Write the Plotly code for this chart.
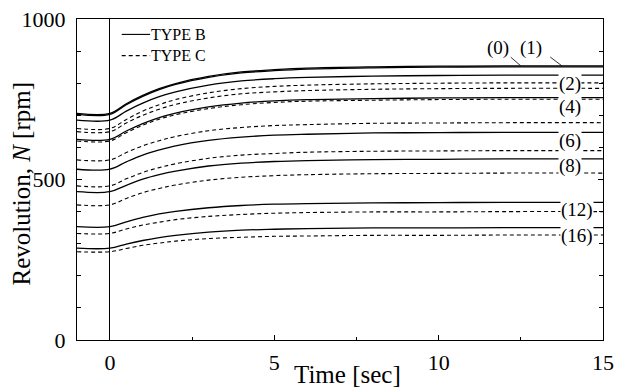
import plotly.graph_objects as go

# time samples (sec)
t = [-1, 0, 0.5, 1, 1.5, 2, 3, 4, 5, 6, 8, 10, 12, 15]

# TYPE B (solid) revolution [rpm]
B0 = [706, 706, 736, 762, 783, 799, 821, 835, 842, 847, 851, 853, 854, 854]
B1 = [703, 703, 733, 759, 780, 796, 818, 832, 839, 844, 848, 850, 851, 851]
B2 = [685, 685, 713, 738, 758, 773, 794, 807, 814, 818, 822, 824, 825, 825]
B4 = [625, 625, 651, 674, 693, 707, 726, 738, 745, 749, 752, 754, 755, 755]
B6 = [532, 532, 555, 576, 592, 605, 622, 632, 638, 641, 645, 646, 647, 647]
B8 = [462, 462, 482, 501, 515, 526, 542, 551, 556, 559, 562, 563, 564, 564]
B12 = [353, 353, 368, 382, 393, 401, 412, 419, 423, 425, 427, 428, 429, 429]
B16 = [286, 286, 299, 310, 319, 326, 336, 342, 345, 347, 349, 349, 350, 350]

# TYPE C (dashed) revolution [rpm]
C0 = [659, 659, 687, 713, 733, 749, 770, 783, 790, 794, 798, 800, 801, 801]
C1 = [649, 649, 676, 700, 719, 734, 754, 767, 773, 777, 781, 783, 784, 784]
C2 = [620, 620, 646, 669, 688, 702, 721, 733, 740, 744, 747, 749, 750, 750]
C4 = [561, 561, 584, 605, 621, 634, 652, 662, 668, 671, 675, 676, 677, 677]
C6 = [480, 480, 502, 522, 537, 549, 566, 576, 581, 585, 588, 589, 590, 590]
C8 = [421, 421, 441, 459, 472, 483, 498, 507, 512, 515, 518, 519, 520, 520]
C12 = [332, 332, 346, 358, 367, 375, 385, 391, 395, 397, 399, 399, 400, 400]
C16 = [275, 275, 285, 295, 302, 308, 316, 320, 323, 324, 326, 326, 327, 327]

series_B = [B0, B1, B2, B4, B6, B8, B12, B16]
series_C = [C0, C1, C2, C4, C6, C8, C12, C16]

# curve labels: (text, time, rpm)
labels = [("(2)", 14.0, 798), ("(4)", 14.0, 727), ("(6)", 14.0, 620),
          ("(8)", 14.0, 542), ("(12)", 14.2, 405), ("(16)", 14.2, 324)]
# labels with leader lines: (text, label time, label rpm, leader start t, rpm, leader end t, rpm)
leaders = [("(0)", 11.8, 910, 12.15, 885, 12.5, 854),
           ("(1)", 12.8, 910, 13.35, 885, 13.75, 854)]

FONT = "Liberation Serif, Times New Roman, Times, serif"
fig = go.Figure()
for ys in series_B:
    fig.add_trace(go.Scatter(x=t, y=ys, mode="lines", line=dict(color="black", width=1.3, shape="spline"),
                             name="TYPE B", showlegend=False))
for ys in series_C:
    fig.add_trace(go.Scatter(x=t, y=ys, mode="lines",
                             line=dict(color="black", width=1.1, dash="4px,3px", shape="spline"),
                             name="TYPE C", showlegend=False))

for txt, xx, yy in labels:
    fig.add_annotation(x=xx, y=yy, text=txt, showarrow=False, bgcolor="white", borderpad=0,
                       font=dict(family=FONT, size=19, color="black"))
for txt, xx, yy, sx, sy, ex, ey in leaders:
    fig.add_annotation(x=ex, y=ey, ax=sx, ay=sy, axref="x", ayref="y", text="", showarrow=True,
                       arrowhead=0, arrowwidth=0.8, arrowcolor="black", standoff=0)
    fig.add_annotation(x=xx, y=yy, text=txt, showarrow=False,
                       font=dict(family=FONT, size=19, color="black"))

# legend drawn manually (key lines + texts)
legend_items = [("TYPE B", "solid", 0.952), ("TYPE C", "4px,3px", 0.886)]
for name, dash, ly in legend_items:
    fig.add_shape(type="line", xref="paper", yref="paper", x0=0.085, x1=0.139, y0=ly, y1=ly,
                  line=dict(color="black", width=1.1, dash=dash))
    fig.add_annotation(xref="paper", yref="paper", x=0.139, y=ly, text=name, showarrow=False,
                       xanchor="left", yanchor="middle", borderpad=0,
                       font=dict(family=FONT, size=16, color="black"))

# axis titles as annotations (placed like the reference)
fig.add_annotation(xref="paper", yref="paper", x=0.515, y=-0.109, text="Time [sec]", showarrow=False,
                   xanchor="center", yanchor="middle", font=dict(family=FONT, size=25, color="black"))
fig.add_annotation(xref="paper", yref="paper", x=-0.105, y=0.487, text="Revolution, <i>N</i> [rpm]",
                   showarrow=False, textangle=-90, xanchor="center", yanchor="middle",
                   font=dict(family=FONT, size=25, color="black"))

fig.update_layout(
    width=618, height=387,
    margin=dict(l=77, r=15, t=19, b=47),
    paper_bgcolor="white", plot_bgcolor="white",
    font=dict(family=FONT, size=22, color="black"),
    showlegend=False,
)
fig.update_xaxes(range=[-1, 15], tickvals=[0, 5, 10, 15], ticks="inside", ticklen=5,
                 tickcolor="black", showline=True, linecolor="black", linewidth=1.2, mirror=True,
                 showgrid=False, zeroline=True, zerolinecolor="black", zerolinewidth=1,
                 ticklabelstandoff=2, automargin=False,
                 minor=dict(dtick=2.5, tick0=0, ticks="inside", ticklen=3, tickcolor="black"))
fig.update_yaxes(range=[0, 1000], tickvals=[0, 500, 1000], ticks="inside", ticklen=5,
                 tickcolor="black", showline=True, linecolor="black", linewidth=1.2, mirror="allticks",
                 showgrid=False, zeroline=False, ticklabelstandoff=6, automargin=False,
                 minor=dict(dtick=100, ticks="inside", ticklen=4, tickcolor="black"))

fig.write_html("out.html")
